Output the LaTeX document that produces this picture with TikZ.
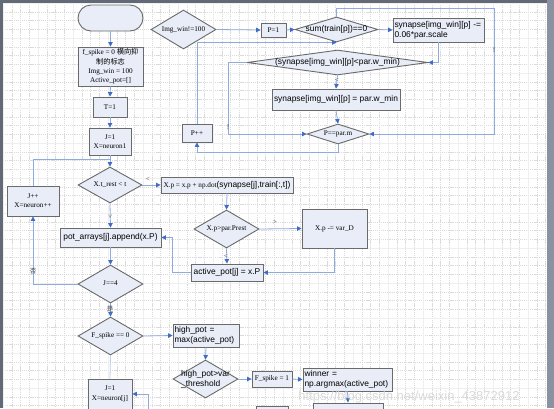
\documentclass[tikz,border=0pt]{standalone}
\usepackage{fontspec}
\setmainfont{Liberation Serif}
\newfontfamily\sansf{Liberation Sans}
\newfontfamily\cjk{Noto Sans CJK SC}
\usetikzlibrary{arrows.meta,shapes.geometric}
\definecolor{nodef}{HTML}{E8EDF7}
\definecolor{nodeb}{HTML}{6A6A6A}
\definecolor{connc}{HTML}{8FAADC}
\definecolor{tipc}{HTML}{3F6CC4}
\definecolor{framec}{HTML}{626A78}
\definecolor{framer}{HTML}{8A91A0}
\definecolor{gridc}{HTML}{DADADA}
\newcommand\serifsz{\fontsize{7.2}{9.3}\selectfont}
\newcommand\sanssz{\fontsize{8.4}{10}\selectfont}
\newcommand\dtc[1]{\makebox[0pt]{\begin{tabular}{@{}c@{}}#1\end{tabular}}}
\newcommand\dtl[1]{\makebox[0pt]{\begin{tabular}{@{}l@{}}#1\end{tabular}}}
\tikzset{
  box/.style={draw=nodeb, fill=nodef, line width=0.9pt, inner sep=1pt, align=center, font=\serifsz},
  sbox/.style={box, font=\sansf\sanssz},
  dia/.style={shape=diamond, draw=nodeb, fill=nodef, line width=0.9pt, inner sep=0pt, font=\serifsz},
  sdia/.style={dia, font=\sansf\sanssz},
  arr/.style={draw=connc, line width=0.8pt, -{Triangle[length=4.5pt,width=4.5pt,color=tipc]}},
  ln/.style={draw=connc, line width=0.8pt},
  lab/.style={font=\serifsz, text=black!75, inner sep=0.5pt},
  gridl/.style={draw=gridc, line width=0.35pt, dash pattern=on 1.2pt off 0.9pt},
  gridm/.style={draw=gridc!80!black!20, line width=0.4pt}
}
\begin{document}
\begin{tikzpicture}[x=1pt,y=-1pt]
\useasboundingbox (0,0) rectangle (554,408);
\clip (0,0) rectangle (554,408);
\fill[white] (0,0) rectangle (554,408);
% grid
\foreach \i in {0,...,62} {\draw[gridl] ({3+\i*8.75},3) -- ({3+\i*8.75},408);}
\foreach \j in {0,...,46} {\draw[gridl] (3,{3+\j*8.75}) -- (547,{3+\j*8.75});}
\foreach \i in {0,...,15} {\draw[gridm] ({3+\i*35},3) -- ({3+\i*35},408);}
\foreach \j in {0,...,11} {\draw[gridm] (3,{3+\j*35}) -- (547,{3+\j*35});}
% frame
\fill[framec] (0,0) rectangle (554,3);
\fill[framec] (0,0) rectangle (3,408);
\fill[framer] (547,0) rectangle (554,408);

% ---- left column ----
\node[box, rounded corners=13pt, minimum width=65pt, minimum height=26pt] (start) at (110.5,18) {};
\node[box, minimum width=65pt, minimum height=39pt] (init) at (110.5,66.5)
  {f\_spike = 0 {\cjk 横向抑}\\{\cjk 制的标志}\\Img\_win = 100\\Active\_pot=[]};
\node[box, minimum width=34pt, minimum height=20pt] (T1) at (110,107) {T=1};
\node[box, minimum width=42pt, minimum height=27pt] (J1) at (110,141.5) {J=1\\X=neuron1};
\node[dia, minimum width=64pt, minimum height=36pt] (d1) at (110,185) {\dtc{X.t\_rest < t}};
\node[box, minimum width=52pt, minimum height=30pt] (jpp) at (33,201) {J++\\X=neuron++};
\node[box, minimum width=132pt, minimum height=16pt] (xp) at (227,185)
  {X.p = x.p + np.dot{\sansf\sanssz (synapse[j],train[:,t])}};
\node[sbox, minimum width=101pt, minimum height=19pt] (pot) at (110.5,237.5) {pot\_arrays[j].append(x.P)};
\node[dia, minimum width=65pt, minimum height=38pt] (d2) at (226.5,229) {\dtc{X.p>par.Prest}};
\node[box, minimum width=65pt, minimum height=39pt] (varD) at (334.5,228.5) {X.p -= var\_D};
\node[sbox, minimum width=72pt, minimum height=17pt] (act) at (227,272.5) {active\_pot[j] = x.P};
\node[dia, minimum width=65pt, minimum height=38pt] (d3) at (110.5,284) {\dtc{J==4}};
\node[dia, minimum width=65pt, minimum height=38pt] (d4) at (110.5,336) {\dtc{F\_spike == 0}};
\node[sbox, align=left, text width=63pt, minimum width=66pt, minimum height=23pt] (hp) at (206,335.5)
  {high\_pot =\\max(active\_pot)};
\node[sdia, minimum width=65pt, minimum height=38pt] (d5) at (205.5,379) {\dtl{high\_pot>var\\\_threshold}};
\node[box, minimum width=40pt, minimum height=16pt] (fs1) at (272,379) {F\_spike = 1};
\node[sbox, align=left, text width=86pt, minimum width=89pt, minimum height=23pt] (win) at (347.5,379.5)
  {winner =\\np.argmax(active\_pot)};
\node[sbox, minimum width=70pt, minimum height=26pt] (bot1) at (348,416) {};
\node[box, minimum width=32pt, minimum height=26pt] (bot2) at (272,419) {};
\node[box, minimum width=44pt, minimum height=30pt] (Jn) at (110,394) {J=1\\X=neuron[j]};

% ---- top loop ----
\node[dia, minimum width=65pt, minimum height=39pt] (d6) at (183.5,29.5) {\dtc{Img\_win!=100}};
\node[box, minimum width=25pt, minimum height=14pt] (P1) at (273.5,30) {P=1};
\node[sdia, minimum width=83pt, minimum height=25pt] (d7) at (336.5,29.5) {\dtc{sum(train[p])==0}};
\node[sbox, align=left, text width=88pt, minimum width=91pt, minimum height=24pt] (sub) at (438.5,30)
  {synapse[img\_win][p] -=\\0.06*par.scale};
\node[sdia, minimum width=181pt, minimum height=25pt] (d8) at (337.5,62.5) {\dtc{(synapse[img\_win][p]<par.w\_min)}};
\node[sbox, minimum width=128pt, minimum height=21pt] (wmin) at (336,99.5) {synapse[img\_win][p] = par.w\_min};
\node[dia, minimum width=62pt, minimum height=20pt] (d9) at (338,134) {\dtc{P==par.m}};
\node[box, minimum width=30pt, minimum height=18pt] (Ppp) at (197,133) {P++};

% ---- connectors ----
\coordinate (m1) at (110,159);
\coordinate (c1) at (148,412);
\draw[arr] (start.south) -- (init.north);
\draw[arr] (init.south) -- (T1.north);
\draw[arr] (T1.south) -- (J1.north);
\draw[arr] (J1.south) -- (d1.north);
\draw[ln] (jpp.north) |- (m1);
\draw[arr] (d1.east) -- (xp.west);
\draw[arr] (d1.south) -- (pot.north);
\draw[arr] (xp.south) -- (d2.north);
\draw[arr] (d2.east) -- (varD.west);
\draw[arr] (d2.south) -- (act.north);
\draw[arr] (varD.south) |- (act.east);
\draw[arr] (act.west) -- ++(-18,0) |- (pot.east);
\draw[arr] (pot.south) -- (d3.north);
\draw[arr] (d3.west) -| (jpp.south);
\draw[arr] (d3.south) -- (d4.north);
\draw[arr] (d4.east) -- (hp.west);
\draw[ln, draw=connc!60] (d4.south) -- (Jn.north);
\draw[arr] (hp.south) -- (d5.north);
\draw[arr] (d5.east) -- (fs1.west);
\draw[arr] (fs1.east) -- (win.west);
\draw[arr] (win.south) -- (bot1.north);
\draw[arr] (c1) |- (Jn.east);

\draw[arr] (d6.east) -- (P1.west);
\draw[arr] (P1.east) -- (d7.west);
\draw[arr] (d7.east) -- (sub.west);
\draw[arr] (sub.south) |- (d8.east);
\draw[arr] (d8.south) -- (wmin.north);
\draw[arr] (wmin.south) -- (d9.north);
\draw[arr] (d8.west) -- (228,62.5) |- (d9.west);
\draw[arr] (d7.north) -- (336.5,8) -- (494,8) |- (d9.east);
\draw[arr] (d9.south) -- (338,152) -| (Ppp.south);
\draw[arr] (Ppp.north) |- (d7.south);

% ---- labels ----
\node[lab] (l1) at (148,179) {<};
\node[lab, rotate=-90] (l2) at (110,217) {>};
\node[lab] (l3) at (275,222) {>};
\node[lab] (l4) at (226,256) {<};
\node[lab, font=\cjk\fontsize{6.5}{7}\selectfont] (l5) at (33,271) {否};
\node[lab, font=\cjk\fontsize{6.5}{7}\selectfont] (l6) at (110,309) {是};
\node[lab] (l7) at (337,80) {<};
\node[lab] (l8) at (228,127) {!};
\node[lab] (l9) at (494,50) {!};

% watermark
\node[font=\sansf\fontsize{13}{13}\selectfont, text=gray!35, opacity=0.8, inner sep=0pt] (wm) at (409,397.5)
  {https://blog.csdn.net/weixin\_43872912};
\end{tikzpicture}
\end{document}
